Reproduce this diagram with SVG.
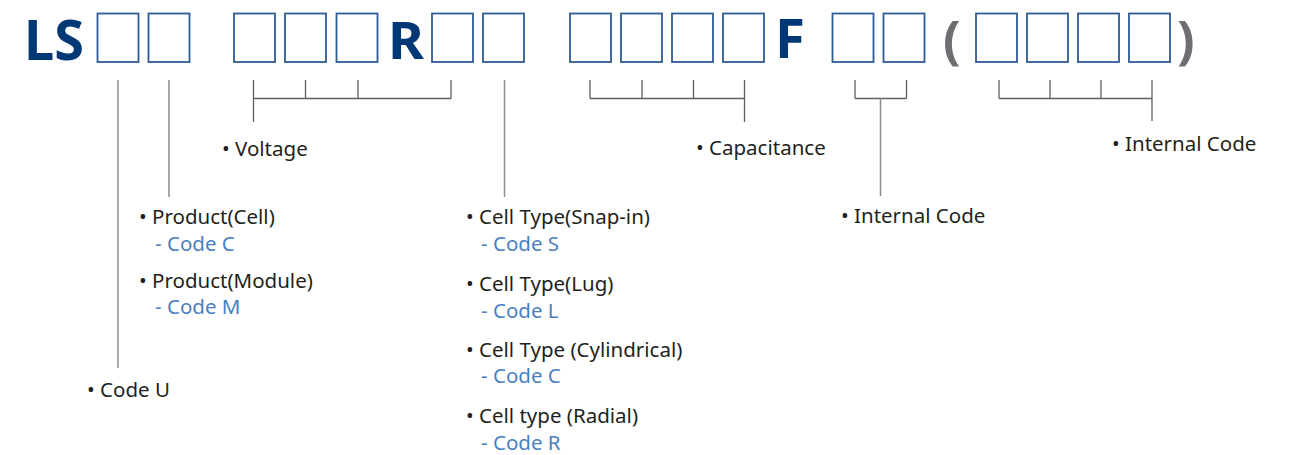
<svg xmlns="http://www.w3.org/2000/svg" width="1294" height="455" viewBox="0 0 1294 455">
<style>
.box{fill:#fff;stroke:#2f5b97;stroke-width:1.8}
.big{font-family:"Noto Sans","Open Sans",sans-serif;font-weight:700;fill:#003876}
.par{font-family:"Noto Sans","Open Sans",sans-serif;font-weight:700;fill:#6d6e71}
.lbl{font-family:"Noto Sans","Open Sans",sans-serif;font-size:20.5px;fill:#231f20}
.code{font-family:"Noto Sans","Open Sans",sans-serif;font-size:20.5px;fill:#4a7fc0}
.tick{fill:none;stroke:#5f5f5f;stroke-width:1.3}
.lead{fill:none;stroke:#8c8c8c;stroke-width:1.5}
</style>
<rect width="1294" height="455" fill="#fff"/>
<defs>
<rect id="b" class="box" x="0" y="13.5" width="41" height="48.5"/>
</defs>
<g id="code-string">
<text class="big" x="24" y="59.5" font-size="56" textLength="60" lengthAdjust="spacingAndGlyphs">LS</text>
<use href="#b" x="97.5"/><use href="#b" x="148.5"/>
<use href="#b" x="234"/><use href="#b" x="285"/><use href="#b" x="336.5"/>
<text class="big" x="388" y="59.3" font-size="52" textLength="36" lengthAdjust="spacingAndGlyphs">R</text>
<use href="#b" x="432"/><use href="#b" x="483"/>
<use href="#b" x="570"/><use href="#b" x="621"/><use href="#b" x="672"/><use href="#b" x="723"/>
<text class="big" x="775" y="58.3" font-size="54" textLength="30" lengthAdjust="spacingAndGlyphs">F</text>
<use href="#b" x="832.5"/><use href="#b" x="883.5"/>
<text class="par" x="943" y="58" font-size="52">(</text>
<use href="#b" x="976"/><use href="#b" x="1027"/><use href="#b" x="1078"/><use href="#b" x="1129"/>
<text class="par" x="1177" y="58" font-size="52">)</text>
</g>
<g id="connectors">
<path class="lead" d="M118 80V368M169 80V197M504.5 80V197"/>
<path class="tick" d="M253.5 80V122M305.5 80V98.5M358 80V98.5M451 80V98.5M253.5 98.5H451"/>
<path class="tick" d="M590 80V98.5M642 80V98.5M693.5 80V98.5M744.5 80V122M590 98.5H744.5"/>
<path class="tick" d="M855 80V98.5M906.5 80V98.5M855 98.5H906.5"/>
<path class="lead" d="M880.5 98.5V196"/>
<path class="tick" d="M999 80V98.5M1050 80V98.5M1101 80V98.5M1152 80V121M999 98.5H1152"/>
</g>
<g id="label-code-u"><text class="lbl" x="87" y="397">• Code U</text></g>
<g id="label-product">
<text class="lbl" x="139" y="224">• Product(Cell)</text>
<text class="code" x="155" y="251">- Code C</text>
<text class="lbl" x="139" y="288">• Product(Module)</text>
<text class="code" x="155" y="314">- Code M</text>
</g>
<g id="label-voltage"><text class="lbl" x="222" y="156">• Voltage</text></g>
<g id="label-cell-type">
<text class="lbl" x="466" y="224">• Cell Type(Snap-in)</text>
<text class="code" x="481" y="251">- Code S</text>
<text class="lbl" x="466" y="291">• Cell Type(Lug)</text>
<text class="code" x="481" y="318">- Code L</text>
<text class="lbl" x="466" y="357">• Cell Type (Cylindrical)</text>
<text class="code" x="481" y="383">- Code C</text>
<text class="lbl" x="466" y="423">• Cell type (Radial)</text>
<text class="code" x="481" y="450">- Code R</text>
</g>
<g id="label-capacitance"><text class="lbl" x="696" y="155">• Capacitance</text></g>
<g id="label-internal-code-1"><text class="lbl" x="841" y="223">• Internal Code</text></g>
<g id="label-internal-code-2"><text class="lbl" x="1112" y="151">• Internal Code</text></g>
</svg>
